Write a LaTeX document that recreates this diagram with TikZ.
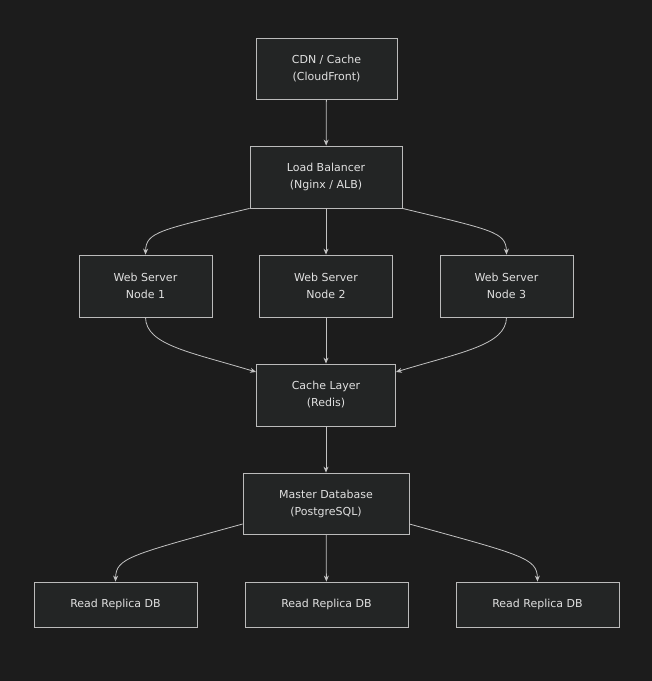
\documentclass[tikz,border=0pt]{standalone}
\usepackage{fontspec}
\setmainfont{DejaVu Sans}
\usetikzlibrary{arrows.meta}
\definecolor{bg}{HTML}{1C1C1C}
\definecolor{nf}{HTML}{232525}
\definecolor{nb}{HTML}{BBBBBB}
\definecolor{tx}{HTML}{E0E0E0}
\begin{document}
\begin{tikzpicture}[x=1pt,y=-1pt,
  box/.style={draw=nb,fill=nf,line width=0.8pt,text=tx,font=\fontsize{11}{17}\selectfont,align=center,inner sep=0pt},
  e/.style={draw=nb!90,line width=0.8pt,-{Stealth[length=6pt,width=5pt]}}]
\fill[bg] (0,0) rectangle (652,681);
\useasboundingbox (0,0) rectangle (652,681);
\node[box,minimum width=141,minimum height=61] (cdn) at (326.5,68.5) {CDN / Cache\\(CloudFront)};
\node[box,minimum width=152,minimum height=62] (lb) at (326,177) {Load Balancer\\(Nginx / ALB)};
\node[box,minimum width=133,minimum height=62] (w1) at (145.5,286) {Web Server\\Node 1};
\node[box,minimum width=133,minimum height=62] (w2) at (326,286) {Web Server\\Node 2};
\node[box,minimum width=133,minimum height=62] (w3) at (506.5,286) {Web Server\\Node 3};
\node[box,minimum width=139,minimum height=62] (ca) at (326,395) {Cache Layer\\(Redis)};
\node[box,minimum width=166,minimum height=61] (db) at (326,503.5) {Master Database\\(PostgreSQL)};
\node[box,minimum width=163,minimum height=45] (r1) at (115.5,604.5) {Read Replica DB};
\node[box,minimum width=163,minimum height=45] (r2) at (326.5,604.5) {Read Replica DB};
\node[box,minimum width=163,minimum height=45] (r3) at (537.5,604.5) {Read Replica DB};
\draw[e] (cdn) -- (lb);
\draw[e] (lb.south west) .. controls (160,230) and (146,232) .. (w1.north);
\draw[e] (lb) -- (w2);
\draw[e] (lb.south east) .. controls (492,230) and (506,232) .. (w3.north);
\draw[e] (w1.south) .. controls (146,345) and (190,352) .. (ca.west|-0,372);
\draw[e] (w2) -- (ca);
\draw[e] (w3.south) .. controls (506,345) and (462,352) .. (ca.east|-0,372);
\draw[e] (ca) -- (db);
\draw[e] (db.west|-0,524) .. controls (130,555) and (116,558) .. (r1.north);
\draw[e] (db) -- (r2);
\draw[e] (db.east|-0,524) .. controls (522,555) and (537,558) .. (r3.north);
\end{tikzpicture}
\end{document}
